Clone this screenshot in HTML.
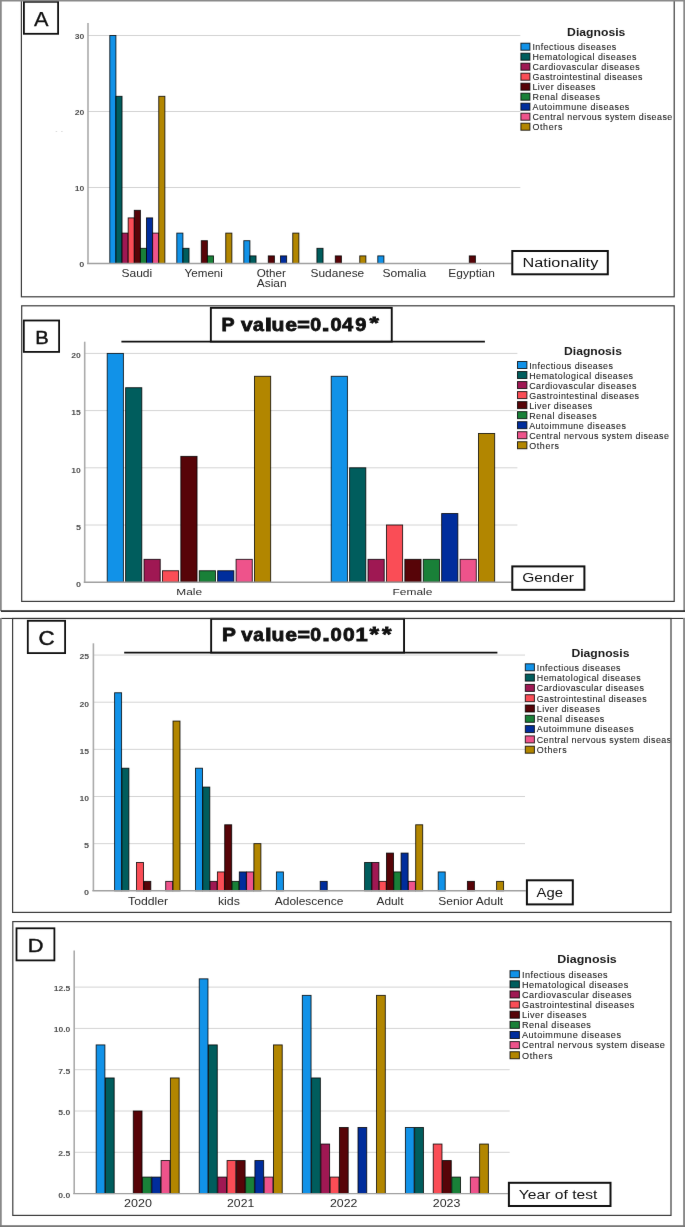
<!DOCTYPE html><html><head><meta charset="utf-8"><style>html,body{margin:0;padding:0;background:#fff;}svg{display:block;}</style></head><body>
<svg width="685" height="1227" viewBox="0 0 685 1227" font-family='"Liberation Sans", sans-serif'>
<defs><filter id="soft" x="0" y="0" width="685" height="1227" filterUnits="userSpaceOnUse" color-interpolation-filters="sRGB"><feConvolveMatrix order="3" kernelMatrix="0.00163 0.03713 0.00163 0.03713 0.84497 0.03713 0.00163 0.03713 0.00163" divisor="1" edgeMode="duplicate"/></filter></defs>
<g filter="url(#soft)">
<rect x="0.00" y="0.00" width="685.00" height="1227.00" fill="#fff" />
<rect x="21.40" y="-1.00" width="652.80" height="297.80" fill="none" stroke="#3c3c3c" stroke-width="1.2" />
<line x1="88.00" y1="187.50" x2="520.30" y2="187.50" stroke="#d4d4d4" stroke-width="1"/>
<line x1="88.00" y1="111.50" x2="520.30" y2="111.50" stroke="#d4d4d4" stroke-width="1"/>
<line x1="88.00" y1="35.50" x2="520.30" y2="35.50" stroke="#d4d4d4" stroke-width="1"/>
<rect x="109.80" y="35.50" width="6.12" height="228.00" fill="#1192e8" stroke="#000" stroke-width="0.9" stroke-opacity="0.85"/>
<rect x="115.92" y="96.30" width="6.12" height="167.20" fill="#005d5d" stroke="#000" stroke-width="0.9" stroke-opacity="0.85"/>
<rect x="122.04" y="233.10" width="6.12" height="30.40" fill="#9f1853" stroke="#000" stroke-width="0.9" stroke-opacity="0.85"/>
<rect x="128.16" y="217.90" width="6.12" height="45.60" fill="#fa4d56" stroke="#000" stroke-width="0.9" stroke-opacity="0.85"/>
<rect x="134.28" y="210.30" width="6.12" height="53.20" fill="#570408" stroke="#000" stroke-width="0.9" stroke-opacity="0.85"/>
<rect x="140.40" y="248.30" width="6.12" height="15.20" fill="#198038" stroke="#000" stroke-width="0.9" stroke-opacity="0.85"/>
<rect x="146.52" y="217.90" width="6.12" height="45.60" fill="#002d9c" stroke="#000" stroke-width="0.9" stroke-opacity="0.85"/>
<rect x="152.64" y="233.10" width="6.12" height="30.40" fill="#ee538b" stroke="#000" stroke-width="0.9" stroke-opacity="0.85"/>
<rect x="158.76" y="96.30" width="6.12" height="167.20" fill="#b28600" stroke="#000" stroke-width="0.9" stroke-opacity="0.85"/>
<rect x="176.80" y="233.10" width="6.12" height="30.40" fill="#1192e8" stroke="#000" stroke-width="0.9" stroke-opacity="0.85"/>
<rect x="182.92" y="248.30" width="6.12" height="15.20" fill="#005d5d" stroke="#000" stroke-width="0.9" stroke-opacity="0.85"/>
<rect x="201.28" y="240.70" width="6.12" height="22.80" fill="#570408" stroke="#000" stroke-width="0.9" stroke-opacity="0.85"/>
<rect x="207.40" y="255.90" width="6.12" height="7.60" fill="#198038" stroke="#000" stroke-width="0.9" stroke-opacity="0.85"/>
<rect x="225.76" y="233.10" width="6.12" height="30.40" fill="#b28600" stroke="#000" stroke-width="0.9" stroke-opacity="0.85"/>
<rect x="243.80" y="240.70" width="6.12" height="22.80" fill="#1192e8" stroke="#000" stroke-width="0.9" stroke-opacity="0.85"/>
<rect x="249.92" y="255.90" width="6.12" height="7.60" fill="#005d5d" stroke="#000" stroke-width="0.9" stroke-opacity="0.85"/>
<rect x="268.28" y="255.90" width="6.12" height="7.60" fill="#570408" stroke="#000" stroke-width="0.9" stroke-opacity="0.85"/>
<rect x="280.52" y="255.90" width="6.12" height="7.60" fill="#002d9c" stroke="#000" stroke-width="0.9" stroke-opacity="0.85"/>
<rect x="292.76" y="233.10" width="6.12" height="30.40" fill="#b28600" stroke="#000" stroke-width="0.9" stroke-opacity="0.85"/>
<rect x="316.92" y="248.30" width="6.12" height="15.20" fill="#005d5d" stroke="#000" stroke-width="0.9" stroke-opacity="0.85"/>
<rect x="335.28" y="255.90" width="6.12" height="7.60" fill="#570408" stroke="#000" stroke-width="0.9" stroke-opacity="0.85"/>
<rect x="359.76" y="255.90" width="6.12" height="7.60" fill="#b28600" stroke="#000" stroke-width="0.9" stroke-opacity="0.85"/>
<rect x="377.80" y="255.90" width="6.12" height="7.60" fill="#1192e8" stroke="#000" stroke-width="0.9" stroke-opacity="0.85"/>
<rect x="469.28" y="255.90" width="6.12" height="7.60" fill="#570408" stroke="#000" stroke-width="0.9" stroke-opacity="0.85"/>
<line x1="88.00" y1="23.00" x2="88.00" y2="263.50" stroke="#ababab" stroke-width="1.6"/>
<line x1="87.00" y1="263.50" x2="511.50" y2="263.50" stroke="#a0a0a0" stroke-width="1.4"/>
<text x="79.25" y="267.35" font-size="7.12" font-weight="bold" fill="#505050" textLength="5.05" lengthAdjust="spacingAndGlyphs">0</text>
<text x="74.69" y="191.35" font-size="7.12" font-weight="bold" fill="#505050" textLength="9.61" lengthAdjust="spacingAndGlyphs">10</text>
<text x="74.69" y="115.35" font-size="7.12" font-weight="bold" fill="#505050" textLength="9.61" lengthAdjust="spacingAndGlyphs">20</text>
<text x="74.69" y="39.35" font-size="7.12" font-weight="bold" fill="#505050" textLength="9.61" lengthAdjust="spacingAndGlyphs">30</text>
<text x="121.45" y="277.10" font-size="10.06" font-weight="normal" fill="#2a2a2a" textLength="30.80" lengthAdjust="spacingAndGlyphs">Saudi</text>
<text x="184.55" y="277.10" font-size="10.06" font-weight="normal" fill="#2a2a2a" textLength="38.40" lengthAdjust="spacingAndGlyphs">Yemeni</text>
<text x="256.75" y="277.10" font-size="10.06" font-weight="normal" fill="#2a2a2a" textLength="29.20" lengthAdjust="spacingAndGlyphs">Other</text>
<text x="310.55" y="277.10" font-size="10.06" font-weight="normal" fill="#2a2a2a" textLength="53.70" lengthAdjust="spacingAndGlyphs">Sudanese</text>
<text x="382.55" y="277.10" font-size="10.06" font-weight="normal" fill="#2a2a2a" textLength="43.60" lengthAdjust="spacingAndGlyphs">Somalia</text>
<text x="448.35" y="277.10" font-size="10.06" font-weight="normal" fill="#2a2a2a" textLength="46.60" lengthAdjust="spacingAndGlyphs">Egyptian</text>
<text x="256.73" y="286.80" font-size="10.47" font-weight="normal" fill="#2a2a2a" textLength="29.83" lengthAdjust="spacingAndGlyphs">Asian</text>
<rect x="512.30" y="251.00" width="95.50" height="23.30" fill="#fff" stroke="#111" stroke-width="2" />
<text x="522.56" y="267.20" font-size="12.71" font-weight="normal" fill="#111" textLength="75.69" lengthAdjust="spacingAndGlyphs">Nationality</text>
<text x="567.10" y="36.20" font-size="11.31" font-weight="bold" fill="#1a1a1a" textLength="58.29" lengthAdjust="spacingAndGlyphs">Diagnosis</text>
<rect x="520.90" y="43.20" width="9.00" height="7.00" fill="#1192e8" stroke="#000" stroke-width="1" stroke-opacity="0.8"/>
<text x="532.44" y="50.15" font-size="8.90" font-weight="normal" fill="#262626" stroke="#262626" stroke-width="0.1" textLength="83.79" lengthAdjust="spacing">Infectious diseases</text>
<rect x="520.90" y="53.20" width="9.00" height="7.00" fill="#005d5d" stroke="#000" stroke-width="1" stroke-opacity="0.8"/>
<text x="532.44" y="60.15" font-size="8.90" font-weight="normal" fill="#262626" stroke="#262626" stroke-width="0.1" textLength="103.92" lengthAdjust="spacing">Hematological diseases</text>
<rect x="520.90" y="63.20" width="9.00" height="7.00" fill="#9f1853" stroke="#000" stroke-width="1" stroke-opacity="0.8"/>
<text x="532.44" y="70.15" font-size="8.90" font-weight="normal" fill="#262626" stroke="#262626" stroke-width="0.1" textLength="107.18" lengthAdjust="spacing">Cardiovascular diseases</text>
<rect x="520.90" y="73.20" width="9.00" height="7.00" fill="#fa4d56" stroke="#000" stroke-width="1" stroke-opacity="0.8"/>
<text x="532.44" y="80.15" font-size="8.90" font-weight="normal" fill="#262626" stroke="#262626" stroke-width="0.1" textLength="109.90" lengthAdjust="spacing">Gastrointestinal diseases</text>
<rect x="520.90" y="83.20" width="9.00" height="7.00" fill="#570408" stroke="#000" stroke-width="1" stroke-opacity="0.8"/>
<text x="532.44" y="90.15" font-size="8.90" font-weight="normal" fill="#262626" stroke="#262626" stroke-width="0.1" textLength="63.10" lengthAdjust="spacing">Liver diseases</text>
<rect x="520.90" y="93.20" width="9.00" height="7.00" fill="#198038" stroke="#000" stroke-width="1" stroke-opacity="0.8"/>
<text x="532.44" y="100.15" font-size="8.90" font-weight="normal" fill="#262626" stroke="#262626" stroke-width="0.1" textLength="67.46" lengthAdjust="spacing">Renal diseases</text>
<rect x="520.90" y="103.20" width="9.00" height="7.00" fill="#002d9c" stroke="#000" stroke-width="1" stroke-opacity="0.8"/>
<text x="532.44" y="110.15" font-size="8.90" font-weight="normal" fill="#262626" stroke="#262626" stroke-width="0.1" textLength="96.84" lengthAdjust="spacing">Autoimmune diseases</text>
<rect x="520.90" y="113.20" width="9.00" height="7.00" fill="#ee538b" stroke="#000" stroke-width="1" stroke-opacity="0.8"/>
<text x="532.44" y="120.15" font-size="8.90" font-weight="normal" fill="#262626" stroke="#262626" stroke-width="0.1" textLength="139.82" lengthAdjust="spacing">Central nervous system disease</text>
<rect x="520.90" y="123.20" width="9.00" height="7.00" fill="#b28600" stroke="#000" stroke-width="1" stroke-opacity="0.8"/>
<text x="532.44" y="130.15" font-size="8.90" font-weight="normal" fill="#262626" stroke="#262626" stroke-width="0.1" textLength="29.90" lengthAdjust="spacing">Others</text>
<rect x="23.90" y="1.80" width="34.20" height="32.00" fill="#fff" stroke="#111" stroke-width="1.8" />
<text x="33.94" y="25.57" font-size="19.62" font-weight="normal" fill="#111" stroke="#111" stroke-width="0.25" textLength="14.52" lengthAdjust="spacingAndGlyphs">A</text>
<ellipse cx="56.4" cy="131.4" rx="0.9" ry="0.5" fill="#d8d8d8"/><ellipse cx="61.9" cy="131.4" rx="0.9" ry="0.5" fill="#d8d8d8"/>
<rect x="21.70" y="305.80" width="652.50" height="295.60" fill="none" stroke="#3c3c3c" stroke-width="1.2" />
<line x1="84.70" y1="525.00" x2="517.40" y2="525.00" stroke="#d4d4d4" stroke-width="1"/>
<line x1="84.70" y1="467.80" x2="517.40" y2="467.80" stroke="#d4d4d4" stroke-width="1"/>
<line x1="84.70" y1="410.60" x2="517.40" y2="410.60" stroke="#d4d4d4" stroke-width="1"/>
<line x1="84.70" y1="353.40" x2="517.40" y2="353.40" stroke="#d4d4d4" stroke-width="1"/>
<rect x="107.20" y="353.40" width="16.20" height="228.80" fill="#1192e8" stroke="#000" stroke-width="0.9" stroke-opacity="0.85"/>
<rect x="125.61" y="387.72" width="16.20" height="194.48" fill="#005d5d" stroke="#000" stroke-width="0.9" stroke-opacity="0.85"/>
<rect x="144.02" y="559.32" width="16.20" height="22.88" fill="#9f1853" stroke="#000" stroke-width="0.9" stroke-opacity="0.85"/>
<rect x="162.43" y="570.76" width="16.20" height="11.44" fill="#fa4d56" stroke="#000" stroke-width="0.9" stroke-opacity="0.85"/>
<rect x="180.84" y="456.36" width="16.20" height="125.84" fill="#570408" stroke="#000" stroke-width="0.9" stroke-opacity="0.85"/>
<rect x="199.25" y="570.76" width="16.20" height="11.44" fill="#198038" stroke="#000" stroke-width="0.9" stroke-opacity="0.85"/>
<rect x="217.66" y="570.76" width="16.20" height="11.44" fill="#002d9c" stroke="#000" stroke-width="0.9" stroke-opacity="0.85"/>
<rect x="236.07" y="559.32" width="16.20" height="22.88" fill="#ee538b" stroke="#000" stroke-width="0.9" stroke-opacity="0.85"/>
<rect x="254.48" y="376.28" width="16.20" height="205.92" fill="#b28600" stroke="#000" stroke-width="0.9" stroke-opacity="0.85"/>
<rect x="331.20" y="376.28" width="16.20" height="205.92" fill="#1192e8" stroke="#000" stroke-width="0.9" stroke-opacity="0.85"/>
<rect x="349.61" y="467.80" width="16.20" height="114.40" fill="#005d5d" stroke="#000" stroke-width="0.9" stroke-opacity="0.85"/>
<rect x="368.02" y="559.32" width="16.20" height="22.88" fill="#9f1853" stroke="#000" stroke-width="0.9" stroke-opacity="0.85"/>
<rect x="386.43" y="525.00" width="16.20" height="57.20" fill="#fa4d56" stroke="#000" stroke-width="0.9" stroke-opacity="0.85"/>
<rect x="404.84" y="559.32" width="16.20" height="22.88" fill="#570408" stroke="#000" stroke-width="0.9" stroke-opacity="0.85"/>
<rect x="423.25" y="559.32" width="16.20" height="22.88" fill="#198038" stroke="#000" stroke-width="0.9" stroke-opacity="0.85"/>
<rect x="441.66" y="513.56" width="16.20" height="68.64" fill="#002d9c" stroke="#000" stroke-width="0.9" stroke-opacity="0.85"/>
<rect x="460.07" y="559.32" width="16.20" height="22.88" fill="#ee538b" stroke="#000" stroke-width="0.9" stroke-opacity="0.85"/>
<rect x="478.48" y="433.48" width="16.20" height="148.72" fill="#b28600" stroke="#000" stroke-width="0.9" stroke-opacity="0.85"/>
<line x1="84.70" y1="341.70" x2="84.70" y2="582.20" stroke="#ababab" stroke-width="1.6"/>
<line x1="83.70" y1="582.20" x2="511.50" y2="582.20" stroke="#a0a0a0" stroke-width="1.4"/>
<text x="75.90" y="586.95" font-size="7.12" font-weight="bold" fill="#505050" textLength="5.05" lengthAdjust="spacingAndGlyphs">0</text>
<text x="75.90" y="529.75" font-size="7.12" font-weight="bold" fill="#505050" textLength="5.05" lengthAdjust="spacingAndGlyphs">5</text>
<text x="71.34" y="472.55" font-size="7.12" font-weight="bold" fill="#505050" textLength="9.61" lengthAdjust="spacingAndGlyphs">10</text>
<text x="71.34" y="415.35" font-size="7.12" font-weight="bold" fill="#505050" textLength="9.61" lengthAdjust="spacingAndGlyphs">15</text>
<text x="71.34" y="358.15" font-size="7.12" font-weight="bold" fill="#505050" textLength="9.61" lengthAdjust="spacingAndGlyphs">20</text>
<text x="176.35" y="595.30" font-size="9.92" font-weight="normal" fill="#2a2a2a" textLength="25.79" lengthAdjust="spacingAndGlyphs">Male</text>
<text x="392.55" y="595.30" font-size="9.92" font-weight="normal" fill="#2a2a2a" textLength="39.89" lengthAdjust="spacingAndGlyphs">Female</text>
<rect x="512.30" y="566.40" width="72.10" height="23.40" fill="#fff" stroke="#111" stroke-width="2" />
<text x="522.27" y="581.80" font-size="12.29" font-weight="normal" fill="#111" textLength="51.76" lengthAdjust="spacingAndGlyphs">Gender</text>
<text x="564.02" y="354.80" font-size="10.75" font-weight="bold" fill="#1a1a1a" textLength="57.95" lengthAdjust="spacingAndGlyphs">Diagnosis</text>
<rect x="517.50" y="361.50" width="9.40" height="7.00" fill="#1192e8" stroke="#000" stroke-width="1" stroke-opacity="0.8"/>
<text x="529.14" y="368.75" font-size="8.90" font-weight="normal" fill="#262626" stroke="#262626" stroke-width="0.1" textLength="83.79" lengthAdjust="spacing">Infectious diseases</text>
<rect x="517.50" y="371.53" width="9.40" height="7.00" fill="#005d5d" stroke="#000" stroke-width="1" stroke-opacity="0.8"/>
<text x="529.14" y="378.78" font-size="8.90" font-weight="normal" fill="#262626" stroke="#262626" stroke-width="0.1" textLength="103.92" lengthAdjust="spacing">Hematological diseases</text>
<rect x="517.50" y="381.56" width="9.40" height="7.00" fill="#9f1853" stroke="#000" stroke-width="1" stroke-opacity="0.8"/>
<text x="529.14" y="388.81" font-size="8.90" font-weight="normal" fill="#262626" stroke="#262626" stroke-width="0.1" textLength="107.18" lengthAdjust="spacing">Cardiovascular diseases</text>
<rect x="517.50" y="391.59" width="9.40" height="7.00" fill="#fa4d56" stroke="#000" stroke-width="1" stroke-opacity="0.8"/>
<text x="529.14" y="398.84" font-size="8.90" font-weight="normal" fill="#262626" stroke="#262626" stroke-width="0.1" textLength="109.90" lengthAdjust="spacing">Gastrointestinal diseases</text>
<rect x="517.50" y="401.62" width="9.40" height="7.00" fill="#570408" stroke="#000" stroke-width="1" stroke-opacity="0.8"/>
<text x="529.14" y="408.87" font-size="8.90" font-weight="normal" fill="#262626" stroke="#262626" stroke-width="0.1" textLength="63.10" lengthAdjust="spacing">Liver diseases</text>
<rect x="517.50" y="411.65" width="9.40" height="7.00" fill="#198038" stroke="#000" stroke-width="1" stroke-opacity="0.8"/>
<text x="529.14" y="418.90" font-size="8.90" font-weight="normal" fill="#262626" stroke="#262626" stroke-width="0.1" textLength="67.46" lengthAdjust="spacing">Renal diseases</text>
<rect x="517.50" y="421.68" width="9.40" height="7.00" fill="#002d9c" stroke="#000" stroke-width="1" stroke-opacity="0.8"/>
<text x="529.14" y="428.93" font-size="8.90" font-weight="normal" fill="#262626" stroke="#262626" stroke-width="0.1" textLength="96.84" lengthAdjust="spacing">Autoimmune diseases</text>
<rect x="517.50" y="431.71" width="9.40" height="7.00" fill="#ee538b" stroke="#000" stroke-width="1" stroke-opacity="0.8"/>
<text x="529.14" y="438.96" font-size="8.90" font-weight="normal" fill="#262626" stroke="#262626" stroke-width="0.1" textLength="139.82" lengthAdjust="spacing">Central nervous system disease</text>
<rect x="517.50" y="441.74" width="9.40" height="7.00" fill="#b28600" stroke="#000" stroke-width="1" stroke-opacity="0.8"/>
<text x="529.14" y="448.99" font-size="8.90" font-weight="normal" fill="#262626" stroke="#262626" stroke-width="0.1" textLength="29.90" lengthAdjust="spacing">Others</text>
<rect x="23.80" y="320.50" width="35.30" height="31.40" fill="#fff" stroke="#111" stroke-width="1.8" />
<text x="35.16" y="343.57" font-size="18.92" font-weight="normal" fill="#111" stroke="#111" stroke-width="0.45" textLength="13.47" lengthAdjust="spacingAndGlyphs">B</text>
<line x1="121.40" y1="341.70" x2="484.90" y2="341.70" stroke="#111" stroke-width="1.8"/>
<rect x="210.85" y="307.85" width="180.90" height="33.70" fill="#fff" stroke="#111" stroke-width="1.9" />
<text x="221.49" y="330.90" font-size="17.88" font-weight="bold" fill="#111" stroke="#111" stroke-width="0.8" textLength="13.08" lengthAdjust="spacingAndGlyphs">P</text>
<text x="241.12" y="330.90" font-size="17.88" font-weight="bold" fill="#111" stroke="#111" stroke-width="0.8" textLength="11.57" lengthAdjust="spacingAndGlyphs">v</text>
<text x="253.04" y="330.90" font-size="17.88" font-weight="bold" fill="#111" stroke="#111" stroke-width="0.8" textLength="10.83" lengthAdjust="spacingAndGlyphs">a</text>
<text x="264.66" y="330.90" font-size="17.88" font-weight="bold" fill="#111" stroke="#111" stroke-width="0.8" textLength="7.30" lengthAdjust="spacingAndGlyphs">l</text>
<text x="271.49" y="330.90" font-size="17.88" font-weight="bold" fill="#111" stroke="#111" stroke-width="0.8" textLength="12.90" lengthAdjust="spacingAndGlyphs">u</text>
<text x="285.18" y="330.90" font-size="17.88" font-weight="bold" fill="#111" stroke="#111" stroke-width="0.8" textLength="11.74" lengthAdjust="spacingAndGlyphs">e</text>
<text x="297.32" y="330.90" font-size="17.88" font-weight="bold" fill="#111" stroke="#111" stroke-width="0.8" textLength="12.56" lengthAdjust="spacingAndGlyphs">=</text>
<text x="310.22" y="330.90" font-size="17.88" font-weight="bold" fill="#111" stroke="#111" stroke-width="0.8" textLength="10.89" lengthAdjust="spacingAndGlyphs">0</text>
<text x="321.47" y="330.90" font-size="17.88" font-weight="bold" fill="#111" stroke="#111" stroke-width="0.8" textLength="8.28" lengthAdjust="spacingAndGlyphs">.</text>
<text x="330.60" y="330.90" font-size="17.88" font-weight="bold" fill="#111" stroke="#111" stroke-width="0.8" textLength="11.12" lengthAdjust="spacingAndGlyphs">0</text>
<text x="342.10" y="330.90" font-size="17.88" font-weight="bold" fill="#111" stroke="#111" stroke-width="0.8" textLength="11.10" lengthAdjust="spacingAndGlyphs">4</text>
<text x="355.20" y="330.90" font-size="17.88" font-weight="bold" fill="#111" stroke="#111" stroke-width="0.8" textLength="11.15" lengthAdjust="spacingAndGlyphs">9</text>
<text x="369.43" y="328.67" font-size="16.67" font-weight="bold" fill="#111" stroke="#111" stroke-width="0.8" textLength="9.30" lengthAdjust="spacingAndGlyphs">*</text>
<rect x="12.60" y="618.50" width="658.40" height="293.90" fill="none" stroke="#3c3c3c" stroke-width="1.2" />
<line x1="93.40" y1="843.65" x2="525.00" y2="843.65" stroke="#d4d4d4" stroke-width="1"/>
<line x1="93.40" y1="796.50" x2="525.00" y2="796.50" stroke="#d4d4d4" stroke-width="1"/>
<line x1="93.40" y1="749.35" x2="525.00" y2="749.35" stroke="#d4d4d4" stroke-width="1"/>
<line x1="93.40" y1="702.20" x2="525.00" y2="702.20" stroke="#d4d4d4" stroke-width="1"/>
<line x1="93.40" y1="655.05" x2="525.00" y2="655.05" stroke="#d4d4d4" stroke-width="1"/>
<rect x="114.60" y="692.77" width="7.00" height="198.03" fill="#1192e8" stroke="#000" stroke-width="0.9" stroke-opacity="0.85"/>
<rect x="121.90" y="768.21" width="7.00" height="122.59" fill="#005d5d" stroke="#000" stroke-width="0.9" stroke-opacity="0.85"/>
<rect x="136.50" y="862.51" width="7.00" height="28.29" fill="#fa4d56" stroke="#000" stroke-width="0.9" stroke-opacity="0.85"/>
<rect x="143.80" y="881.37" width="7.00" height="9.43" fill="#570408" stroke="#000" stroke-width="0.9" stroke-opacity="0.85"/>
<rect x="165.70" y="881.37" width="7.00" height="9.43" fill="#ee538b" stroke="#000" stroke-width="0.9" stroke-opacity="0.85"/>
<rect x="173.00" y="721.06" width="7.00" height="169.74" fill="#b28600" stroke="#000" stroke-width="0.9" stroke-opacity="0.85"/>
<rect x="195.50" y="768.21" width="7.00" height="122.59" fill="#1192e8" stroke="#000" stroke-width="0.9" stroke-opacity="0.85"/>
<rect x="202.80" y="787.07" width="7.00" height="103.73" fill="#005d5d" stroke="#000" stroke-width="0.9" stroke-opacity="0.85"/>
<rect x="210.10" y="881.37" width="7.00" height="9.43" fill="#9f1853" stroke="#000" stroke-width="0.9" stroke-opacity="0.85"/>
<rect x="217.40" y="871.94" width="7.00" height="18.86" fill="#fa4d56" stroke="#000" stroke-width="0.9" stroke-opacity="0.85"/>
<rect x="224.70" y="824.79" width="7.00" height="66.01" fill="#570408" stroke="#000" stroke-width="0.9" stroke-opacity="0.85"/>
<rect x="232.00" y="881.37" width="7.00" height="9.43" fill="#198038" stroke="#000" stroke-width="0.9" stroke-opacity="0.85"/>
<rect x="239.30" y="871.94" width="7.00" height="18.86" fill="#002d9c" stroke="#000" stroke-width="0.9" stroke-opacity="0.85"/>
<rect x="246.60" y="871.94" width="7.00" height="18.86" fill="#ee538b" stroke="#000" stroke-width="0.9" stroke-opacity="0.85"/>
<rect x="253.90" y="843.65" width="7.00" height="47.15" fill="#b28600" stroke="#000" stroke-width="0.9" stroke-opacity="0.85"/>
<rect x="276.40" y="871.94" width="7.00" height="18.86" fill="#1192e8" stroke="#000" stroke-width="0.9" stroke-opacity="0.85"/>
<rect x="320.20" y="881.37" width="7.00" height="9.43" fill="#002d9c" stroke="#000" stroke-width="0.9" stroke-opacity="0.85"/>
<rect x="364.60" y="862.51" width="7.00" height="28.29" fill="#005d5d" stroke="#000" stroke-width="0.9" stroke-opacity="0.85"/>
<rect x="371.90" y="862.51" width="7.00" height="28.29" fill="#9f1853" stroke="#000" stroke-width="0.9" stroke-opacity="0.85"/>
<rect x="379.20" y="881.37" width="7.00" height="9.43" fill="#fa4d56" stroke="#000" stroke-width="0.9" stroke-opacity="0.85"/>
<rect x="386.50" y="853.08" width="7.00" height="37.72" fill="#570408" stroke="#000" stroke-width="0.9" stroke-opacity="0.85"/>
<rect x="393.80" y="871.94" width="7.00" height="18.86" fill="#198038" stroke="#000" stroke-width="0.9" stroke-opacity="0.85"/>
<rect x="401.10" y="853.08" width="7.00" height="37.72" fill="#002d9c" stroke="#000" stroke-width="0.9" stroke-opacity="0.85"/>
<rect x="408.40" y="881.37" width="7.00" height="9.43" fill="#ee538b" stroke="#000" stroke-width="0.9" stroke-opacity="0.85"/>
<rect x="415.70" y="824.79" width="7.00" height="66.01" fill="#b28600" stroke="#000" stroke-width="0.9" stroke-opacity="0.85"/>
<rect x="438.20" y="871.94" width="7.00" height="18.86" fill="#1192e8" stroke="#000" stroke-width="0.9" stroke-opacity="0.85"/>
<rect x="467.40" y="881.37" width="7.00" height="9.43" fill="#570408" stroke="#000" stroke-width="0.9" stroke-opacity="0.85"/>
<rect x="496.60" y="881.37" width="7.00" height="9.43" fill="#b28600" stroke="#000" stroke-width="0.9" stroke-opacity="0.85"/>
<line x1="93.40" y1="643.30" x2="93.40" y2="890.80" stroke="#ababab" stroke-width="1.6"/>
<line x1="92.40" y1="890.80" x2="525.80" y2="890.80" stroke="#a0a0a0" stroke-width="1.4"/>
<text x="84.10" y="895.15" font-size="7.12" font-weight="bold" fill="#505050" textLength="5.05" lengthAdjust="spacingAndGlyphs">0</text>
<text x="84.10" y="848.00" font-size="7.12" font-weight="bold" fill="#505050" textLength="5.05" lengthAdjust="spacingAndGlyphs">5</text>
<text x="79.54" y="800.85" font-size="7.12" font-weight="bold" fill="#505050" textLength="9.61" lengthAdjust="spacingAndGlyphs">10</text>
<text x="79.54" y="753.70" font-size="7.12" font-weight="bold" fill="#505050" textLength="9.61" lengthAdjust="spacingAndGlyphs">15</text>
<text x="79.54" y="706.55" font-size="7.12" font-weight="bold" fill="#505050" textLength="9.61" lengthAdjust="spacingAndGlyphs">20</text>
<text x="79.54" y="659.40" font-size="7.12" font-weight="bold" fill="#505050" textLength="9.61" lengthAdjust="spacingAndGlyphs">25</text>
<text x="128.13" y="904.70" font-size="10.61" font-weight="normal" fill="#2a2a2a" textLength="40.04" lengthAdjust="spacingAndGlyphs">Toddler</text>
<text x="217.93" y="904.70" font-size="10.61" font-weight="normal" fill="#2a2a2a" textLength="22.04" lengthAdjust="spacingAndGlyphs">kids</text>
<text x="274.73" y="904.70" font-size="10.61" font-weight="normal" fill="#2a2a2a" textLength="68.64" lengthAdjust="spacingAndGlyphs">Adolescence</text>
<text x="376.53" y="904.70" font-size="10.61" font-weight="normal" fill="#2a2a2a" textLength="27.04" lengthAdjust="spacingAndGlyphs">Adult</text>
<text x="438.23" y="904.70" font-size="10.61" font-weight="normal" fill="#2a2a2a" textLength="64.94" lengthAdjust="spacingAndGlyphs">Senior Adult</text>
<rect x="526.90" y="880.30" width="45.90" height="24.10" fill="#fff" stroke="#111" stroke-width="2" />
<text x="536.58" y="896.50" font-size="12.01" font-weight="normal" fill="#111" textLength="26.44" lengthAdjust="spacingAndGlyphs">Age</text>
<clipPath id="cC"><rect x="12" y="618" width="658.3" height="295"/></clipPath><g clip-path="url(#cC)">
<text x="571.40" y="656.70" font-size="11.31" font-weight="bold" fill="#1a1a1a" textLength="58.09" lengthAdjust="spacingAndGlyphs">Diagnosis</text>
<rect x="525.30" y="663.80" width="9.10" height="7.00" fill="#1192e8" stroke="#000" stroke-width="1" stroke-opacity="0.8"/>
<text x="536.74" y="670.65" font-size="8.90" font-weight="normal" fill="#262626" stroke="#262626" stroke-width="0.1" textLength="83.79" lengthAdjust="spacing">Infectious diseases</text>
<rect x="525.30" y="674.10" width="9.10" height="7.00" fill="#005d5d" stroke="#000" stroke-width="1" stroke-opacity="0.8"/>
<text x="536.74" y="680.95" font-size="8.90" font-weight="normal" fill="#262626" stroke="#262626" stroke-width="0.1" textLength="103.92" lengthAdjust="spacing">Hematological diseases</text>
<rect x="525.30" y="684.40" width="9.10" height="7.00" fill="#9f1853" stroke="#000" stroke-width="1" stroke-opacity="0.8"/>
<text x="536.74" y="691.25" font-size="8.90" font-weight="normal" fill="#262626" stroke="#262626" stroke-width="0.1" textLength="107.18" lengthAdjust="spacing">Cardiovascular diseases</text>
<rect x="525.30" y="694.70" width="9.10" height="7.00" fill="#fa4d56" stroke="#000" stroke-width="1" stroke-opacity="0.8"/>
<text x="536.74" y="701.55" font-size="8.90" font-weight="normal" fill="#262626" stroke="#262626" stroke-width="0.1" textLength="109.90" lengthAdjust="spacing">Gastrointestinal diseases</text>
<rect x="525.30" y="705.00" width="9.10" height="7.00" fill="#570408" stroke="#000" stroke-width="1" stroke-opacity="0.8"/>
<text x="536.74" y="711.85" font-size="8.90" font-weight="normal" fill="#262626" stroke="#262626" stroke-width="0.1" textLength="63.10" lengthAdjust="spacing">Liver diseases</text>
<rect x="525.30" y="715.30" width="9.10" height="7.00" fill="#198038" stroke="#000" stroke-width="1" stroke-opacity="0.8"/>
<text x="536.74" y="722.15" font-size="8.90" font-weight="normal" fill="#262626" stroke="#262626" stroke-width="0.1" textLength="67.46" lengthAdjust="spacing">Renal diseases</text>
<rect x="525.30" y="725.60" width="9.10" height="7.00" fill="#002d9c" stroke="#000" stroke-width="1" stroke-opacity="0.8"/>
<text x="536.74" y="732.45" font-size="8.90" font-weight="normal" fill="#262626" stroke="#262626" stroke-width="0.1" textLength="96.84" lengthAdjust="spacing">Autoimmune diseases</text>
<rect x="525.30" y="735.90" width="9.10" height="7.00" fill="#ee538b" stroke="#000" stroke-width="1" stroke-opacity="0.8"/>
<text x="536.74" y="742.75" font-size="8.90" font-weight="normal" fill="#262626" stroke="#262626" stroke-width="0.1" textLength="139.82" lengthAdjust="spacing">Central nervous system disease</text>
<rect x="525.30" y="746.20" width="9.10" height="7.00" fill="#b28600" stroke="#000" stroke-width="1" stroke-opacity="0.8"/>
<text x="536.74" y="753.05" font-size="8.90" font-weight="normal" fill="#262626" stroke="#262626" stroke-width="0.1" textLength="29.90" lengthAdjust="spacing">Others</text>
</g>
<rect x="27.80" y="620.80" width="37.30" height="32.30" fill="#fff" stroke="#111" stroke-width="1.8" />
<text x="38.43" y="644.57" font-size="19.76" font-weight="normal" fill="#111" stroke="#111" stroke-width="0.45" textLength="16.13" lengthAdjust="spacingAndGlyphs">C</text>
<line x1="124.20" y1="652.65" x2="497.40" y2="652.65" stroke="#111" stroke-width="1.8"/>
<rect x="211.15" y="618.85" width="192.90" height="33.70" fill="#fff" stroke="#111" stroke-width="1.9" />
<text x="222.00" y="640.90" font-size="18.31" font-weight="bold" fill="#111" stroke="#111" stroke-width="0.8" textLength="13.91" lengthAdjust="spacingAndGlyphs">P</text>
<text x="241.32" y="640.90" font-size="18.31" font-weight="bold" fill="#111" stroke="#111" stroke-width="0.8" textLength="11.37" lengthAdjust="spacingAndGlyphs">v</text>
<text x="253.25" y="640.90" font-size="18.31" font-weight="bold" fill="#111" stroke="#111" stroke-width="0.8" textLength="10.62" lengthAdjust="spacingAndGlyphs">a</text>
<text x="265.11" y="640.90" font-size="18.31" font-weight="bold" fill="#111" stroke="#111" stroke-width="0.8" textLength="6.69" lengthAdjust="spacingAndGlyphs">l</text>
<text x="271.49" y="640.90" font-size="18.31" font-weight="bold" fill="#111" stroke="#111" stroke-width="0.8" textLength="12.90" lengthAdjust="spacingAndGlyphs">u</text>
<text x="285.18" y="640.90" font-size="18.31" font-weight="bold" fill="#111" stroke="#111" stroke-width="0.8" textLength="11.74" lengthAdjust="spacingAndGlyphs">e</text>
<text x="297.53" y="640.90" font-size="18.31" font-weight="bold" fill="#111" stroke="#111" stroke-width="0.8" textLength="12.45" lengthAdjust="spacingAndGlyphs">=</text>
<text x="310.22" y="640.90" font-size="18.31" font-weight="bold" fill="#111" stroke="#111" stroke-width="0.8" textLength="10.89" lengthAdjust="spacingAndGlyphs">0</text>
<text x="321.92" y="640.90" font-size="18.31" font-weight="bold" fill="#111" stroke="#111" stroke-width="0.8" textLength="8.08" lengthAdjust="spacingAndGlyphs">.</text>
<text x="330.49" y="640.90" font-size="18.31" font-weight="bold" fill="#111" stroke="#111" stroke-width="0.8" textLength="11.24" lengthAdjust="spacingAndGlyphs">0</text>
<text x="343.06" y="640.90" font-size="18.31" font-weight="bold" fill="#111" stroke="#111" stroke-width="0.8" textLength="11.71" lengthAdjust="spacingAndGlyphs">0</text>
<text x="355.42" y="640.90" font-size="18.31" font-weight="bold" fill="#111" stroke="#111" stroke-width="0.8" textLength="12.20" lengthAdjust="spacingAndGlyphs">1</text>
<text x="369.63" y="640.50" font-size="19.62" font-weight="bold" fill="#111" stroke="#111" stroke-width="0.8" textLength="9.50" lengthAdjust="spacingAndGlyphs">*</text>
<text x="381.93" y="640.50" font-size="19.62" font-weight="bold" fill="#111" stroke="#111" stroke-width="0.8" textLength="9.50" lengthAdjust="spacingAndGlyphs">*</text>
<rect x="12.80" y="921.60" width="658.20" height="293.80" fill="none" stroke="#3c3c3c" stroke-width="1.2" />
<line x1="74.20" y1="1152.30" x2="509.70" y2="1152.30" stroke="#d4d4d4" stroke-width="1"/>
<line x1="74.20" y1="1111.00" x2="509.70" y2="1111.00" stroke="#d4d4d4" stroke-width="1"/>
<line x1="74.20" y1="1069.70" x2="509.70" y2="1069.70" stroke="#d4d4d4" stroke-width="1"/>
<line x1="74.20" y1="1028.40" x2="509.70" y2="1028.40" stroke="#d4d4d4" stroke-width="1"/>
<line x1="74.20" y1="987.10" x2="509.70" y2="987.10" stroke="#d4d4d4" stroke-width="1"/>
<rect x="96.15" y="1044.92" width="8.75" height="148.68" fill="#1192e8" stroke="#000" stroke-width="0.9" stroke-opacity="0.85"/>
<rect x="105.43" y="1077.96" width="8.75" height="115.64" fill="#005d5d" stroke="#000" stroke-width="0.9" stroke-opacity="0.85"/>
<rect x="133.27" y="1111.00" width="8.75" height="82.60" fill="#570408" stroke="#000" stroke-width="0.9" stroke-opacity="0.85"/>
<rect x="142.55" y="1177.08" width="8.75" height="16.52" fill="#198038" stroke="#000" stroke-width="0.9" stroke-opacity="0.85"/>
<rect x="151.83" y="1177.08" width="8.75" height="16.52" fill="#002d9c" stroke="#000" stroke-width="0.9" stroke-opacity="0.85"/>
<rect x="161.11" y="1160.56" width="8.75" height="33.04" fill="#ee538b" stroke="#000" stroke-width="0.9" stroke-opacity="0.85"/>
<rect x="170.39" y="1077.96" width="8.75" height="115.64" fill="#b28600" stroke="#000" stroke-width="0.9" stroke-opacity="0.85"/>
<rect x="199.23" y="978.84" width="8.75" height="214.76" fill="#1192e8" stroke="#000" stroke-width="0.9" stroke-opacity="0.85"/>
<rect x="208.51" y="1044.92" width="8.75" height="148.68" fill="#005d5d" stroke="#000" stroke-width="0.9" stroke-opacity="0.85"/>
<rect x="217.79" y="1177.08" width="8.75" height="16.52" fill="#9f1853" stroke="#000" stroke-width="0.9" stroke-opacity="0.85"/>
<rect x="227.07" y="1160.56" width="8.75" height="33.04" fill="#fa4d56" stroke="#000" stroke-width="0.9" stroke-opacity="0.85"/>
<rect x="236.35" y="1160.56" width="8.75" height="33.04" fill="#570408" stroke="#000" stroke-width="0.9" stroke-opacity="0.85"/>
<rect x="245.63" y="1177.08" width="8.75" height="16.52" fill="#198038" stroke="#000" stroke-width="0.9" stroke-opacity="0.85"/>
<rect x="254.91" y="1160.56" width="8.75" height="33.04" fill="#002d9c" stroke="#000" stroke-width="0.9" stroke-opacity="0.85"/>
<rect x="264.19" y="1177.08" width="8.75" height="16.52" fill="#ee538b" stroke="#000" stroke-width="0.9" stroke-opacity="0.85"/>
<rect x="273.47" y="1044.92" width="8.75" height="148.68" fill="#b28600" stroke="#000" stroke-width="0.9" stroke-opacity="0.85"/>
<rect x="302.31" y="995.36" width="8.75" height="198.24" fill="#1192e8" stroke="#000" stroke-width="0.9" stroke-opacity="0.85"/>
<rect x="311.59" y="1077.96" width="8.75" height="115.64" fill="#005d5d" stroke="#000" stroke-width="0.9" stroke-opacity="0.85"/>
<rect x="320.87" y="1144.04" width="8.75" height="49.56" fill="#9f1853" stroke="#000" stroke-width="0.9" stroke-opacity="0.85"/>
<rect x="330.15" y="1177.08" width="8.75" height="16.52" fill="#fa4d56" stroke="#000" stroke-width="0.9" stroke-opacity="0.85"/>
<rect x="339.43" y="1127.52" width="8.75" height="66.08" fill="#570408" stroke="#000" stroke-width="0.9" stroke-opacity="0.85"/>
<rect x="357.99" y="1127.52" width="8.75" height="66.08" fill="#002d9c" stroke="#000" stroke-width="0.9" stroke-opacity="0.85"/>
<rect x="376.55" y="995.36" width="8.75" height="198.24" fill="#b28600" stroke="#000" stroke-width="0.9" stroke-opacity="0.85"/>
<rect x="405.39" y="1127.52" width="8.75" height="66.08" fill="#1192e8" stroke="#000" stroke-width="0.9" stroke-opacity="0.85"/>
<rect x="414.67" y="1127.52" width="8.75" height="66.08" fill="#005d5d" stroke="#000" stroke-width="0.9" stroke-opacity="0.85"/>
<rect x="433.23" y="1144.04" width="8.75" height="49.56" fill="#fa4d56" stroke="#000" stroke-width="0.9" stroke-opacity="0.85"/>
<rect x="442.51" y="1160.56" width="8.75" height="33.04" fill="#570408" stroke="#000" stroke-width="0.9" stroke-opacity="0.85"/>
<rect x="451.79" y="1177.08" width="8.75" height="16.52" fill="#198038" stroke="#000" stroke-width="0.9" stroke-opacity="0.85"/>
<rect x="470.35" y="1177.08" width="8.75" height="16.52" fill="#ee538b" stroke="#000" stroke-width="0.9" stroke-opacity="0.85"/>
<rect x="479.63" y="1144.04" width="8.75" height="49.56" fill="#b28600" stroke="#000" stroke-width="0.9" stroke-opacity="0.85"/>
<line x1="74.20" y1="950.60" x2="74.20" y2="1193.60" stroke="#ababab" stroke-width="1.6"/>
<line x1="73.20" y1="1193.60" x2="507.90" y2="1193.60" stroke="#a0a0a0" stroke-width="1.4"/>
<text x="58.32" y="1197.55" font-size="7.40" font-weight="bold" fill="#505050" textLength="12.04" lengthAdjust="spacingAndGlyphs">0.0</text>
<text x="58.32" y="1156.25" font-size="7.40" font-weight="bold" fill="#505050" textLength="12.04" lengthAdjust="spacingAndGlyphs">2.5</text>
<text x="58.32" y="1114.95" font-size="7.40" font-weight="bold" fill="#505050" textLength="12.04" lengthAdjust="spacingAndGlyphs">5.0</text>
<text x="58.32" y="1073.65" font-size="7.40" font-weight="bold" fill="#505050" textLength="12.04" lengthAdjust="spacingAndGlyphs">7.5</text>
<text x="53.71" y="1032.35" font-size="7.40" font-weight="bold" fill="#505050" textLength="16.65" lengthAdjust="spacingAndGlyphs">10.0</text>
<text x="53.71" y="991.05" font-size="7.40" font-weight="bold" fill="#505050" textLength="16.65" lengthAdjust="spacingAndGlyphs">12.5</text>
<text x="124.01" y="1207.40" font-size="11.03" font-weight="normal" fill="#2a2a2a" textLength="27.87" lengthAdjust="spacingAndGlyphs">2020</text>
<text x="227.11" y="1207.40" font-size="11.03" font-weight="normal" fill="#2a2a2a" textLength="27.07" lengthAdjust="spacingAndGlyphs">2021</text>
<text x="330.01" y="1207.40" font-size="11.03" font-weight="normal" fill="#2a2a2a" textLength="27.47" lengthAdjust="spacingAndGlyphs">2022</text>
<text x="432.81" y="1207.40" font-size="11.03" font-weight="normal" fill="#2a2a2a" textLength="27.57" lengthAdjust="spacingAndGlyphs">2023</text>
<rect x="508.90" y="1182.80" width="101.60" height="23.20" fill="#fff" stroke="#111" stroke-width="2" />
<text x="518.86" y="1199.00" font-size="12.57" font-weight="normal" fill="#111" textLength="78.48" lengthAdjust="spacingAndGlyphs">Year of test</text>
<text x="557.33" y="963.30" font-size="10.61" font-weight="bold" fill="#1a1a1a" textLength="59.44" lengthAdjust="spacingAndGlyphs">Diagnosis</text>
<rect x="510.00" y="970.70" width="9.40" height="7.00" fill="#1192e8" stroke="#000" stroke-width="1" stroke-opacity="0.8"/>
<text x="521.93" y="977.55" font-size="9.10" font-weight="normal" fill="#262626" stroke="#262626" stroke-width="0.1" textLength="85.67" lengthAdjust="spacing">Infectious diseases</text>
<rect x="510.00" y="980.83" width="9.40" height="7.00" fill="#005d5d" stroke="#000" stroke-width="1" stroke-opacity="0.8"/>
<text x="521.93" y="987.68" font-size="9.10" font-weight="normal" fill="#262626" stroke="#262626" stroke-width="0.1" textLength="106.25" lengthAdjust="spacing">Hematological diseases</text>
<rect x="510.00" y="990.96" width="9.40" height="7.00" fill="#9f1853" stroke="#000" stroke-width="1" stroke-opacity="0.8"/>
<text x="521.93" y="997.81" font-size="9.10" font-weight="normal" fill="#262626" stroke="#262626" stroke-width="0.1" textLength="109.59" lengthAdjust="spacing">Cardiovascular diseases</text>
<rect x="510.00" y="1001.09" width="9.40" height="7.00" fill="#fa4d56" stroke="#000" stroke-width="1" stroke-opacity="0.8"/>
<text x="521.93" y="1007.94" font-size="9.10" font-weight="normal" fill="#262626" stroke="#262626" stroke-width="0.1" textLength="112.37" lengthAdjust="spacing">Gastrointestinal diseases</text>
<rect x="510.00" y="1011.22" width="9.40" height="7.00" fill="#570408" stroke="#000" stroke-width="1" stroke-opacity="0.8"/>
<text x="521.93" y="1018.07" font-size="9.10" font-weight="normal" fill="#262626" stroke="#262626" stroke-width="0.1" textLength="64.52" lengthAdjust="spacing">Liver diseases</text>
<rect x="510.00" y="1021.35" width="9.40" height="7.00" fill="#198038" stroke="#000" stroke-width="1" stroke-opacity="0.8"/>
<text x="521.93" y="1028.20" font-size="9.10" font-weight="normal" fill="#262626" stroke="#262626" stroke-width="0.1" textLength="68.98" lengthAdjust="spacing">Renal diseases</text>
<rect x="510.00" y="1031.48" width="9.40" height="7.00" fill="#002d9c" stroke="#000" stroke-width="1" stroke-opacity="0.8"/>
<text x="521.93" y="1038.33" font-size="9.10" font-weight="normal" fill="#262626" stroke="#262626" stroke-width="0.1" textLength="99.02" lengthAdjust="spacing">Autoimmune diseases</text>
<rect x="510.00" y="1041.61" width="9.40" height="7.00" fill="#ee538b" stroke="#000" stroke-width="1" stroke-opacity="0.8"/>
<text x="521.93" y="1048.46" font-size="9.10" font-weight="normal" fill="#262626" stroke="#262626" stroke-width="0.1" textLength="142.97" lengthAdjust="spacing">Central nervous system disease</text>
<rect x="510.00" y="1051.74" width="9.40" height="7.00" fill="#b28600" stroke="#000" stroke-width="1" stroke-opacity="0.8"/>
<text x="521.93" y="1058.59" font-size="9.10" font-weight="normal" fill="#262626" stroke="#262626" stroke-width="0.1" textLength="30.58" lengthAdjust="spacing">Others</text>
<rect x="16.50" y="928.30" width="37.90" height="32.10" fill="#fff" stroke="#111" stroke-width="1.8" />
<text x="27.65" y="952.17" font-size="19.20" font-weight="normal" fill="#111" stroke="#111" stroke-width="0.45" textLength="15.69" lengthAdjust="spacingAndGlyphs">D</text>
<rect x="0.00" y="0.00" width="685.00" height="1.50" fill="#8a8a8a" />
<rect x="0.00" y="0.00" width="1.75" height="611.00" fill="#8a8a8a" />
<rect x="683.30" y="0.00" width="1.70" height="611.00" fill="#8a8a8a" />
<rect x="0.90" y="610.20" width="684.10" height="1.80" fill="#333" />
<rect x="1.00" y="617.90" width="684.00" height="1.10" fill="#333" />
<rect x="0.00" y="618.00" width="1.75" height="609.00" fill="#8a8a8a" />
<rect x="683.10" y="618.00" width="1.90" height="609.00" fill="#8a8a8a" />
<rect x="0.00" y="1225.20" width="685.00" height="1.80" fill="#7a7a7a" />
</g>
</svg></body></html>
